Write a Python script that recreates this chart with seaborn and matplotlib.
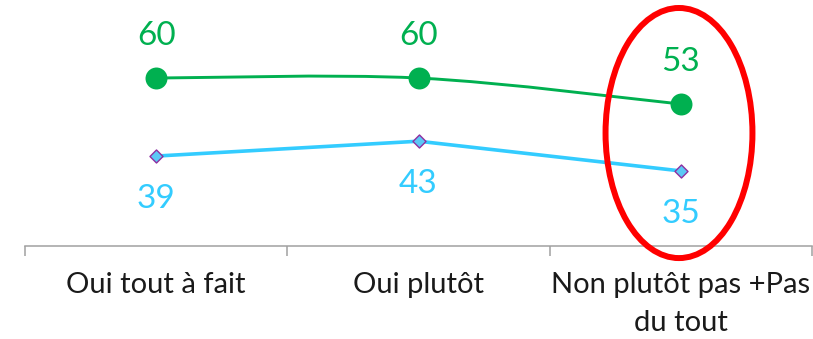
import numpy as np
import pandas as pd
import matplotlib
matplotlib.use("Agg")
import matplotlib.pyplot as plt
import seaborn as sns
from matplotlib.path import Path
from matplotlib.patches import PathPatch, Ellipse

categories = ["Oui tout à fait", "Oui plutôt", "Non plutôt pas +Pas\ndu tout"]
serie_haute = [60, 60, 53]
serie_basse = [39, 43, 35]

GREEN = "#00B050"
CYAN = "#33CCFF"
DIAMOND_FACE = "#5BC8F5"
DIAMOND_EDGE = "#8E2FA0"
RED = "#FF0000"

sns.set_theme(style="white")
plt.rcParams["font.family"] = ["Lato", "DejaVu Sans"]

fig = plt.figure(figsize=(8.13, 3.39), dpi=100)
ax = fig.add_axes([25 / 813, 1 - 246 / 339, 787 / 813, 246 / 339])

x = np.arange(len(categories))
df = pd.DataFrame({
    "pos": np.concatenate([x, x]),
    "val": serie_haute + serie_basse,
    "serie": ["haut"] * 3 + ["bas"] * 3,
})


def smooth_path(xs, ys, tension=1 / 6):
    """Cubic Bezier path through the points (Catmull-Rom style tangents)."""
    pts = np.column_stack([xs, ys]).astype(float)
    n = len(pts)
    verts = [pts[0]]
    codes = [Path.MOVETO]
    for i in range(n - 1):
        p_prev = pts[i - 1] if i > 0 else pts[i]
        p_next = pts[i + 2] if i + 2 < n else pts[i + 1]
        c1 = pts[i] + (pts[i + 1] - p_prev) * tension
        c2 = pts[i + 1] - (p_next - pts[i]) * tension
        verts += [c1, c2, pts[i + 1]]
        codes += [Path.CURVE4] * 3
    return Path(verts, codes)


ax.add_patch(PathPatch(smooth_path(x, serie_haute), fill=False,
                       edgecolor=GREEN, lw=2.1, capstyle="round", zorder=2))
sns.lineplot(data=df[df.serie == "bas"], x="pos", y="val", ax=ax,
             color=CYAN, lw=2.6, zorder=2, legend=False)

sns.scatterplot(data=df[df.serie == "haut"], x="pos", y="val", ax=ax,
                marker="o", s=250, color=GREEN, edgecolor=GREEN,
                linewidth=0, zorder=3, legend=False)
sns.scatterplot(data=df[df.serie == "bas"], x="pos", y="val", ax=ax,
                marker="D", s=44, color=DIAMOND_FACE, edgecolor=DIAMOND_EDGE,
                linewidth=1.0, zorder=3, legend=False)

for xi, v in zip(x, serie_haute):
    ax.annotate(f"{v}", (xi, v), xytext=(0, 30), textcoords="offset points",
                ha="center", va="center", fontsize=24, color=GREEN)
for xi, v in zip(x, serie_basse):
    ax.annotate(f"{v}", (xi, v), xytext=(0, -31), textcoords="offset points",
                ha="center", va="center", fontsize=24, color=CYAN)

# highlight of the last category
ax.add_patch(Ellipse((1.993, 45.2), 0.56, 67.3, fill=False, edgecolor=RED,
                     lw=4.3, clip_on=False, zorder=4))

ax.set_xlim(-0.5, 2.5)
ax.set_ylim(14.8, 81)
ax.set_xlabel("")
ax.set_ylabel("")
ax.set_yticks([])
ax.set_xticks(x)
ax.set_xticklabels(categories, fontsize=21, color="#1a1a1a", linespacing=1.55)
ax.set_xticks([-0.5, 0.5, 1.5, 2.5], minor=True)
ax.tick_params(axis="x", which="major", length=0, pad=19)
ax.tick_params(axis="x", which="minor", length=7.5, width=1.1,
               color="#A0A0A0", bottom=True)
for side in ["top", "left", "right"]:
    ax.spines[side].set_visible(False)
ax.spines["bottom"].set_color("#A0A0A0")
ax.spines["bottom"].set_linewidth(1.1)
ax.patch.set_alpha(0)

fig.savefig("out.png", dpi=100)
